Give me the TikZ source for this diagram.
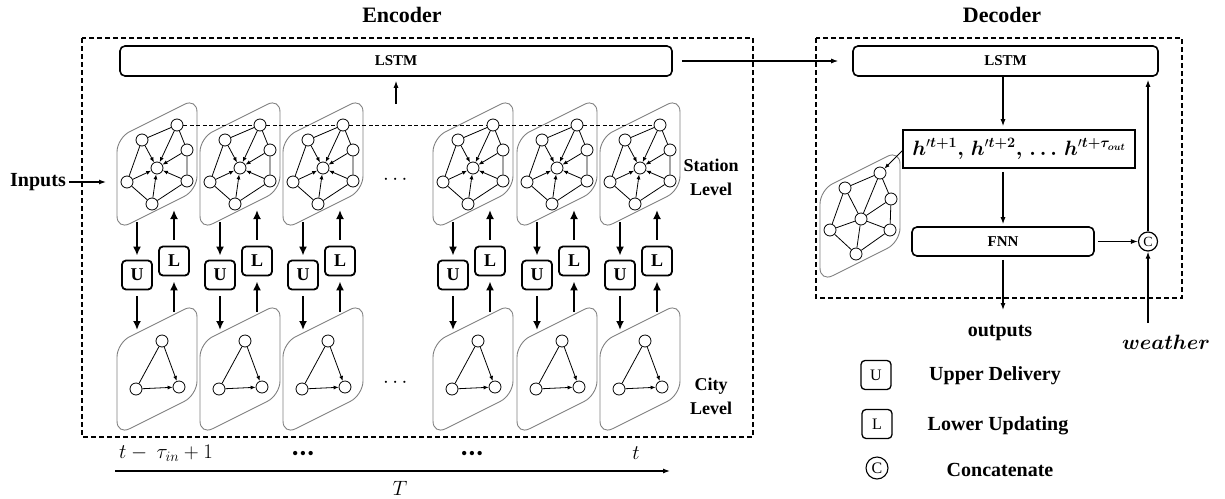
\documentclass[tikz,border=0pt]{standalone}
\usepackage{amsmath}
\usepackage{bm}
\usepackage{fontspec}
\setmainfont{Liberation Serif}
\usetikzlibrary{arrows.meta}

\begin{document}
\begin{tikzpicture}[x=1pt,y=-1pt,
  plate/.style={draw=black!50, line width=0.9pt, rounded corners=14pt},
  vtx/.style={circle, draw, line width=0.8pt, minimum size=12pt, inner sep=0pt, fill=white},
  gedge/.style={line width=0.8pt},
  garrow/.style={line width=0.8pt, -{Latex[length=5pt,width=4pt]}},
  bigarrow/.style={line width=2.2pt, -{Latex[length=9pt,width=8pt]}},
  thinarrow/.style={line width=1.2pt, -{Latex[length=7pt,width=5pt]}},
  ulbox/.style={draw, line width=1.8pt, rounded corners=4pt, minimum width=30pt, minimum height=29pt, inner sep=0pt, font=\bfseries\fontsize{18}{18}\selectfont},
  legbox/.style={draw, line width=1.3pt, rounded corners=4pt, minimum width=30pt, minimum height=29pt, inner sep=0pt, font=\fontsize{16}{16}\selectfont},
  lstmbar/.style={draw, line width=1.6pt, rounded corners=5pt, inner sep=0pt, font=\bfseries\fontsize{15}{15}\selectfont},
  encframe/.style={draw, line width=1.2pt, dash pattern=on 5pt off 3pt},
  lbl/.style={font=\bfseries\fontsize{20}{24}\selectfont, inner sep=0pt, align=center},
  levellbl/.style={font=\bfseries\fontsize{18}{24}\selectfont, inner sep=0pt, align=center},
  mathlbl/.style={font=\fontsize{20}{24}\selectfont, inner sep=0pt},
  catnode/.style={circle, draw, line width=1.2pt, minimum size=19pt, inner sep=0pt, font=\fontsize{14}{14}\selectfont},
  tdots/.style={font=\fontsize{18}{18}\selectfont, inner sep=0pt},
]
\useasboundingbox (0,0) rectangle (1225,498);

% titles and dashed frames
\node[lbl, font=\bfseries\fontsize{22}{24}\selectfont] (enctitle) at (402,15) {Encoder};
\node[lbl, font=\bfseries\fontsize{22}{24}\selectfont] (dectitle) at (1002,15) {Decoder};
\draw[encframe] (82,38) rectangle (753,437);
\draw[encframe] (816,38) rectangle (1182,298);

% LSTM bars
\node[lstmbar, minimum width=552pt, minimum height=30pt] (elstm) at (396,61) {LSTM};
\node[lstmbar, minimum width=305pt, minimum height=30pt] (dlstm) at (1005.5,61) {LSTM};
\coordinate (eup) at (396,104);
\draw[thinarrow, shorten >=4pt] (eup) -- (elstm);
\draw[thinarrow, shorten <=9pt, shorten >=14pt] (elstm) -- (dlstm);

% encoder columns: station graph, city graph, U/L exchange
\foreach \i/\x in {1/117,2/200,3/283,4/433,5/517,6/600}{
  \draw[plate] (\x,138) -- (\x+80,98) -- (\x+80,190) -- (\x,230) -- cycle;
  \draw[plate] (\x,343) -- (\x+80,303) -- (\x+80,395) -- (\x,435) -- cycle;
  \node[vtx] (s\i-a) at (\x+60,125) {};
  \node[vtx] (s\i-b) at (\x+25,140) {};
  \node[vtx] (s\i-c) at (\x+70,150) {};
  \node[vtx] (s\i-m) at (\x+40,168) {};
  \node[vtx] (s\i-d) at (\x+10,182) {};
  \node[vtx] (s\i-e) at (\x+70,181) {};
  \node[vtx] (s\i-f) at (\x+35,204) {};
  \draw[gedge] (s\i-a) -- (s\i-b) (s\i-a) -- (s\i-c) (s\i-b) -- (s\i-d)
               (s\i-d) -- (s\i-f) (s\i-f) -- (s\i-e) (s\i-c) -- (s\i-e);
  \foreach \v in {a,b,c,d,e,f} \draw[garrow] (s\i-\v) -- (s\i-m);
  \node[vtx] (c\i-p) at (\x+45,341) {};
  \node[vtx] (c\i-q) at (\x+19,389) {};
  \node[vtx] (c\i-r) at (\x+62,387) {};
  \draw[gedge] (c\i-p) -- (c\i-q);
  \draw[garrow] (c\i-p) -- (c\i-r);
  \draw[garrow] (c\i-q) -- (c\i-r);
  \node[ulbox] (u\i) at (\x+20,275) {U};
  \node[ulbox] (l\i) at (\x+57,261) {L};
  \coordinate (st\i) at (\x+20,222);
  \coordinate (ct\i) at (\x+20,330);
  \coordinate (cb\i) at (\x+57,312);
  \coordinate (sb\i) at (\x+57,210);
  \draw[bigarrow, shorten >=4pt] (st\i) -- (u\i);
  \draw[bigarrow, shorten <=6pt] (u\i) -- (ct\i);
  \draw[bigarrow, shorten >=5pt] (cb\i) -- (l\i);
  \draw[bigarrow, shorten <=6pt] (l\i) -- (sb\i);
}
\foreach \i/\j in {1/2,2/3,3/4,4/5,5/6}
  \draw[line width=0.9pt, dash pattern=on 4pt off 2.5pt] (s\i-a) -- (s\j-a);

\node[font=\fontsize{20}{20}\selectfont] (sdots) at (397,180) {$\cdots$};
\node[font=\fontsize{20}{20}\selectfont] (cdots) at (397,383) {$\cdots$};
\node[levellbl] (slevel) at (711,177) {Station\\Level};
\node[levellbl] (clevel) at (711,396) {City\\Level};

% inputs
\node[lbl] (inp) at (38,182) {Inputs};
\coordinate (intip) at (106,182);
\draw[thinarrow, shorten <=3pt] (inp) -- (intip);

% time axis
\node[mathlbl] (tfirst) at (166,453) {$t-\ \tau_{in}+1$};
\node[tdots] (tdots1) at (303,455) {\textbullet\kern1.5pt\textbullet\kern1.5pt\textbullet};
\node[tdots] (tdots2) at (472,455) {\textbullet\kern1.5pt\textbullet\kern1.5pt\textbullet};
\node[mathlbl] (tlast) at (636,453) {$t$};
\coordinate (ax0) at (115,471);
\coordinate (ax1) at (670,471);
\draw[thinarrow] (ax0) -- (ax1);
\node[mathlbl] (taxis) at (400,488) {$T$};

% decoder
\node[draw, line width=1.6pt, minimum width=232pt, minimum height=38pt, inner sep=0pt,
      font=\fontsize{19.5}{20}\selectfont] (hbox) at (1019,149)
      {$\boldsymbol{h}'^{\boldsymbol{t+1}}\boldsymbol{,}\,\boldsymbol{h}'^{\boldsymbol{t+2}}\boldsymbol{,}\,\boldsymbol{\ldots}\,\boldsymbol{h}'^{\boldsymbol{t+\tau_{out}}}$};
\node[lstmbar, minimum width=182pt, minimum height=29pt] (fnn) at (1003,241.5) {FNN};
\draw[thinarrow, shorten >=3pt] (dlstm.south -| fnn) -- (hbox.north -| fnn);
\draw[thinarrow, shorten <=3pt, shorten >=2pt] (hbox.south -| fnn) -- (fnn);
\coordinate (otip) at (1003,310);
\draw[thinarrow, shorten <=3pt] (fnn) -- (otip);
\node[lbl] (outs) at (1000,333) {outputs};

\node[catnode] (cat) at (1148,241.5) {C};
\draw[thinarrow, shorten <=3pt] (fnn) -- (cat);
\draw[thinarrow, shorten >=3pt] (cat) -- (dlstm.south -| cat);
\coordinate (wtail) at (1148,323);
\draw[thinarrow] (wtail) -- (cat);
\node[font=\fontsize{20}{20}\selectfont, inner sep=0pt] (weather) at (1166,342) {$\boldsymbol{weather}$};

% decoder-side graph
\draw[plate] (820,190) -- (900,150) -- (900,242) -- (820,282) -- cycle;
\node[vtx] (d-a) at (880,173) {};
\node[vtx] (d-b) at (845,188) {};
\node[vtx] (d-c) at (891,199) {};
\node[vtx] (d-m) at (861,219) {};
\node[vtx] (d-d) at (830,230) {};
\node[vtx] (d-e) at (890,230) {};
\node[vtx] (d-f) at (856,254) {};
\draw[gedge] (d-a) -- (d-b) (d-a) -- (d-c) (d-b) -- (d-d) (d-d) -- (d-f)
             (d-f) -- (d-e) (d-c) -- (d-e);
\foreach \v in {a,b,c,d,e,f} \draw[gedge] (d-\v) -- (d-m);
\coordinate (hl) at (903,150);
\draw[garrow] (hl) -- (d-a);

% legend
\node[legbox] (lgu) at (876,375) {U};
\node[legbox] (lgl) at (877,424) {L};
\node[catnode, minimum size=22pt, line width=1.1pt, font=\fontsize{16}{16}\selectfont] (lgc) at (877,468) {C};
\node[lbl] (lgut) at (995,376) {Upper Delivery};
\node[lbl] (lglt) at (998,426) {Lower Updating};
\node[lbl] (lgct) at (1000,470) {Concatenate};
\end{tikzpicture}
\end{document}
